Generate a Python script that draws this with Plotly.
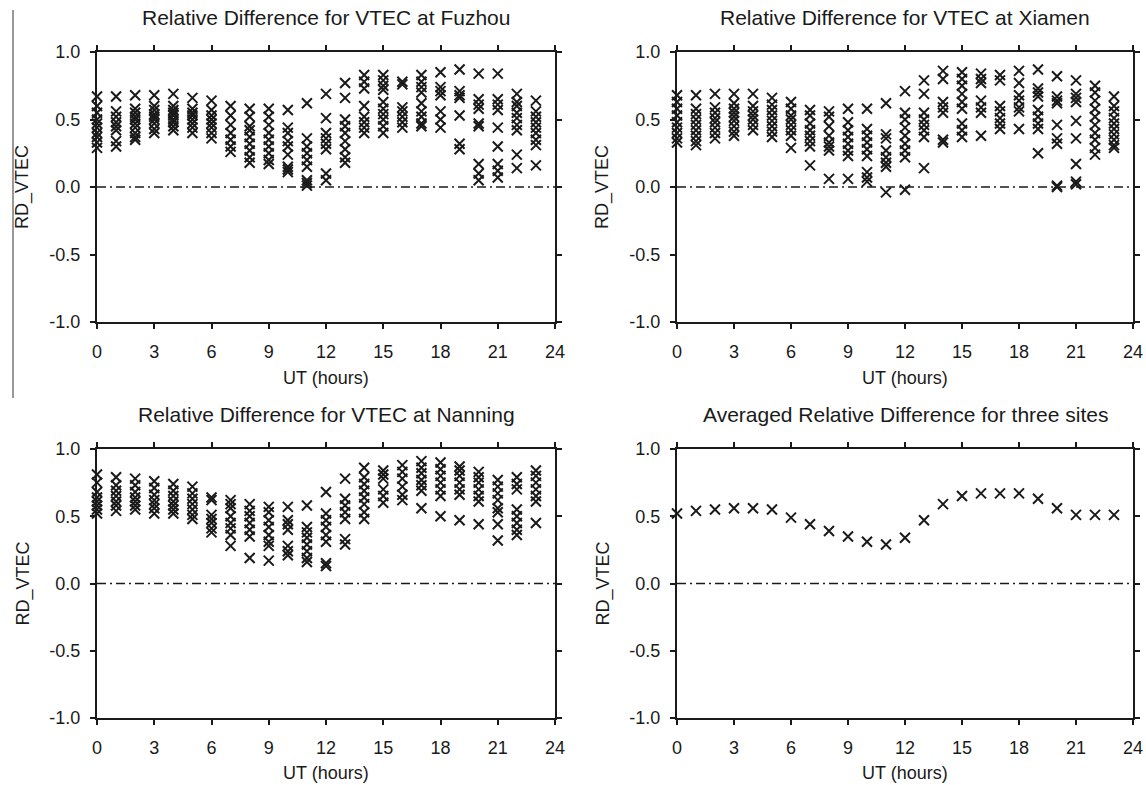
import plotly.graph_objects as go

hours = list(range(24))

fuzhou = [
    [0.67, 0.60, 0.55, 0.50, 0.47, 0.44, 0.40, 0.37, 0.33, 0.29],
    [0.67, 0.56, 0.52, 0.48, 0.45, 0.42, 0.34, 0.30],
    [0.68, 0.58, 0.55, 0.52, 0.50, 0.47, 0.44, 0.40, 0.37, 0.35],
    [0.68, 0.60, 0.57, 0.54, 0.52, 0.50, 0.47, 0.43, 0.40],
    [0.69, 0.60, 0.57, 0.55, 0.53, 0.50, 0.48, 0.45, 0.42],
    [0.66, 0.58, 0.55, 0.53, 0.50, 0.47, 0.44, 0.40],
    [0.64, 0.57, 0.53, 0.50, 0.47, 0.44, 0.40, 0.36],
    [0.60, 0.53, 0.46, 0.40, 0.35, 0.30, 0.26],
    [0.58, 0.52, 0.45, 0.42, 0.37, 0.32, 0.27, 0.22, 0.18],
    [0.58, 0.52, 0.46, 0.40, 0.35, 0.30, 0.25, 0.20, 0.17],
    [0.57, 0.44, 0.40, 0.34, 0.30, 0.24, 0.15, 0.13, 0.11],
    [0.62, 0.36, 0.30, 0.25, 0.20, 0.15, 0.05, 0.03, 0.01],
    [0.69, 0.51, 0.40, 0.36, 0.32, 0.28, 0.10, 0.05],
    [0.77, 0.66, 0.50, 0.45, 0.40, 0.34, 0.28, 0.22, 0.18],
    [0.83, 0.78, 0.73, 0.60, 0.52, 0.48, 0.44, 0.40],
    [0.83, 0.79, 0.75, 0.72, 0.63, 0.58, 0.54, 0.50, 0.45, 0.40],
    [0.78, 0.76, 0.59, 0.56, 0.52, 0.48, 0.44],
    [0.83, 0.78, 0.74, 0.70, 0.62, 0.56, 0.52, 0.47, 0.45],
    [0.85, 0.74, 0.71, 0.68, 0.56, 0.50, 0.44],
    [0.87, 0.71, 0.68, 0.66, 0.53, 0.32, 0.28],
    [0.84, 0.65, 0.61, 0.58, 0.47, 0.45, 0.17, 0.10, 0.05],
    [0.84, 0.65, 0.61, 0.57, 0.44, 0.30, 0.17, 0.12, 0.07],
    [0.69, 0.63, 0.60, 0.55, 0.51, 0.46, 0.42, 0.24, 0.14],
    [0.64, 0.56, 0.52, 0.48, 0.44, 0.40, 0.35, 0.31, 0.16],
]

xiamen = [
    [0.68, 0.63, 0.58, 0.53, 0.48, 0.44, 0.40, 0.36, 0.33],
    [0.68, 0.58, 0.54, 0.50, 0.46, 0.42, 0.38, 0.34, 0.31],
    [0.69, 0.59, 0.55, 0.51, 0.48, 0.44, 0.40, 0.36],
    [0.69, 0.62, 0.58, 0.55, 0.52, 0.49, 0.45, 0.41, 0.38],
    [0.69, 0.60, 0.56, 0.53, 0.50, 0.46, 0.42],
    [0.66, 0.61, 0.57, 0.53, 0.49, 0.45, 0.41, 0.37],
    [0.63, 0.58, 0.53, 0.50, 0.46, 0.42, 0.38, 0.29],
    [0.57, 0.53, 0.47, 0.42, 0.38, 0.34, 0.30, 0.16],
    [0.56, 0.52, 0.45, 0.38, 0.33, 0.30, 0.27, 0.06],
    [0.58, 0.48, 0.42, 0.37, 0.32, 0.27, 0.23, 0.06],
    [0.58, 0.43, 0.38, 0.33, 0.28, 0.23, 0.11, 0.07, 0.04],
    [0.62, 0.39, 0.36, 0.27, 0.22, 0.18, 0.15, -0.04],
    [0.71, 0.55, 0.50, 0.44, 0.38, 0.32, 0.27, 0.22, -0.02],
    [0.79, 0.69, 0.55, 0.50, 0.46, 0.42, 0.37, 0.14],
    [0.86, 0.80, 0.63, 0.59, 0.55, 0.35, 0.33],
    [0.85, 0.80, 0.75, 0.69, 0.63, 0.58, 0.47, 0.42, 0.37],
    [0.84, 0.80, 0.77, 0.64, 0.59, 0.55, 0.38],
    [0.83, 0.79, 0.60, 0.56, 0.51, 0.47, 0.43],
    [0.86, 0.77, 0.68, 0.64, 0.59, 0.56, 0.43],
    [0.87, 0.73, 0.70, 0.67, 0.57, 0.52, 0.47, 0.43, 0.25],
    [0.82, 0.67, 0.64, 0.62, 0.46, 0.36, 0.32, 0.01, 0.00],
    [0.79, 0.69, 0.66, 0.63, 0.49, 0.36, 0.17, 0.04, 0.02],
    [0.75, 0.70, 0.64, 0.58, 0.52, 0.46, 0.40, 0.35, 0.29, 0.24],
    [0.67, 0.60, 0.56, 0.51, 0.47, 0.43, 0.39, 0.35, 0.31, 0.29],
]

nanning = [
    [0.81, 0.75, 0.68, 0.64, 0.61, 0.58, 0.55, 0.52],
    [0.79, 0.73, 0.69, 0.65, 0.61, 0.58, 0.54],
    [0.78, 0.73, 0.68, 0.64, 0.61, 0.58, 0.55],
    [0.76, 0.71, 0.66, 0.62, 0.59, 0.56, 0.52],
    [0.74, 0.69, 0.65, 0.61, 0.58, 0.55, 0.52],
    [0.72, 0.67, 0.63, 0.59, 0.55, 0.51, 0.48],
    [0.64, 0.62, 0.51, 0.48, 0.45, 0.41, 0.38],
    [0.62, 0.59, 0.56, 0.50, 0.45, 0.41, 0.36, 0.28],
    [0.59, 0.54, 0.50, 0.45, 0.40, 0.35, 0.19],
    [0.57, 0.53, 0.47, 0.42, 0.36, 0.31, 0.28, 0.17],
    [0.57, 0.47, 0.44, 0.40, 0.28, 0.24, 0.21],
    [0.58, 0.42, 0.38, 0.34, 0.29, 0.24, 0.19, 0.16],
    [0.68, 0.52, 0.47, 0.42, 0.36, 0.31, 0.15, 0.13],
    [0.78, 0.63, 0.58, 0.53, 0.48, 0.33, 0.29],
    [0.86, 0.79, 0.74, 0.69, 0.64, 0.59, 0.53, 0.48],
    [0.84, 0.81, 0.78, 0.70, 0.65, 0.60],
    [0.88, 0.83, 0.78, 0.72, 0.66, 0.62],
    [0.91, 0.86, 0.82, 0.77, 0.73, 0.69, 0.56],
    [0.90, 0.85, 0.80, 0.75, 0.70, 0.65, 0.50],
    [0.87, 0.84, 0.80, 0.75, 0.70, 0.66, 0.47],
    [0.83, 0.79, 0.75, 0.70, 0.65, 0.61, 0.44],
    [0.77, 0.72, 0.67, 0.62, 0.56, 0.53, 0.44, 0.32],
    [0.79, 0.74, 0.70, 0.55, 0.50, 0.45, 0.40, 0.36],
    [0.84, 0.80, 0.75, 0.70, 0.65, 0.61, 0.45],
]

averaged = [0.52, 0.54, 0.55, 0.56, 0.56, 0.55, 0.49, 0.44, 0.39, 0.35, 0.31, 0.29,
            0.34, 0.47, 0.59, 0.65, 0.67, 0.67, 0.67, 0.63, 0.56, 0.51, 0.51, 0.51]

titles = [
    "Relative Difference for VTEC at Fuzhou",
    "Relative Difference for VTEC at Xiamen",
    "Relative Difference for VTEC at Nanning",
    "Averaged Relative Difference for three sites",
]
x_ticks = [0, 3, 6, 9, 12, 15, 18, 21, 24]
y_ticks = [-1.0, -0.5, 0.0, 0.5, 1.0]
y_ticktext = ["-1.0", "-0.5", "0.0", "0.5", "1.0"]
x_title = "UT (hours)"
y_title = "RD_VTEC"

W, H = 1146, 785
FONT = "Liberation Sans, Arial, sans-serif"
INK = "#1a1a1a"

# panel pixel boxes: (left, right, top, bottom)
boxes = [(97, 555, 52, 322), (677, 1133, 52, 322),
         (97, 555, 449, 718), (677, 1133, 449, 718)]
title_y = [18, 18, 414, 414]
xtitle_y = [378, 378, 773, 773]


def flat(groups):
    xs, ys = [], []
    for h, vals in zip(hours, groups):
        for v in vals:
            xs.append(h)
            ys.append(v)
    return xs, ys


series = [flat(fuzhou), flat(xiamen), flat(nanning), (hours, averaged)]

fig = go.Figure()
annotations = []
layout = {}
for i, ((xs, ys), box, title) in enumerate(zip(series, boxes, titles)):
    n = "" if i == 0 else str(i + 1)
    xa, ya = "x" + n, "y" + n
    l, r, t, b = box
    fig.add_trace(go.Scatter(
        x=[0, 24], y=[0, 0], mode="lines", xaxis=xa, yaxis=ya,
        line=dict(color=INK, width=1.5, dash="9px,4px,2px,4px"),
        hoverinfo="skip", showlegend=False))
    fig.add_trace(go.Scatter(
        x=xs, y=ys, mode="markers", xaxis=xa, yaxis=ya, showlegend=False,
        cliponaxis=False,
        marker=dict(symbol="x-thin", size=10,
                    line=dict(color=INK, width=2), color=INK)))
    axcommon = dict(showline=True, linecolor=INK, linewidth=2, mirror="ticks",
                    ticks="outside", ticklen=5, tickwidth=2, tickcolor=INK,
                    showgrid=False, zeroline=False, automargin=False,
                    tickfont=dict(family=FONT, size=18, color=INK))
    layout["xaxis" + n] = dict(axcommon, domain=[l / W, r / W], range=[0, 24],
                               tickvals=x_ticks, anchor=ya,
                               ticklabelstandoff=7)
    layout["yaxis" + n] = dict(axcommon, domain=[1 - b / H, 1 - t / H],
                               range=[-1, 1], tickvals=y_ticks,
                               ticktext=y_ticktext, anchor=xa,
                               ticklabelstandoff=6)
    cx = (l + r) / 2
    annotations.append(dict(text=title, x=cx / W, y=1 - title_y[i] / H,
                            xref="paper", yref="paper", showarrow=False,
                            xanchor="center", yanchor="middle",
                            font=dict(family=FONT, size=21, color=INK)))
    annotations.append(dict(text=x_title, x=cx / W, y=1 - xtitle_y[i] / H,
                            xref="paper", yref="paper", showarrow=False,
                            xanchor="center", yanchor="middle",
                            font=dict(family=FONT, size=18, color=INK)))
    annotations.append(dict(text=y_title, x=(l - 74) / W, y=1 - (t + b) / 2 / H,
                            xref="paper", yref="paper", showarrow=False,
                            textangle=-90, xanchor="center", yanchor="middle",
                            font=dict(family=FONT, size=18, color=INK)))

fig.update_layout(
    template="none",
    width=W, height=H, margin=dict(l=0, r=0, t=0, b=0, pad=0, autoexpand=False),
    paper_bgcolor="white", plot_bgcolor="white",
    annotations=annotations,
    shapes=[dict(type="line", xref="paper", yref="paper",
                 x0=13 / W, x1=13 / W, y0=1 - 398 / H, y1=1 - 10 / H,
                 line=dict(color="#333333", width=1))],
    **layout)

fig.write_html("out.html")
